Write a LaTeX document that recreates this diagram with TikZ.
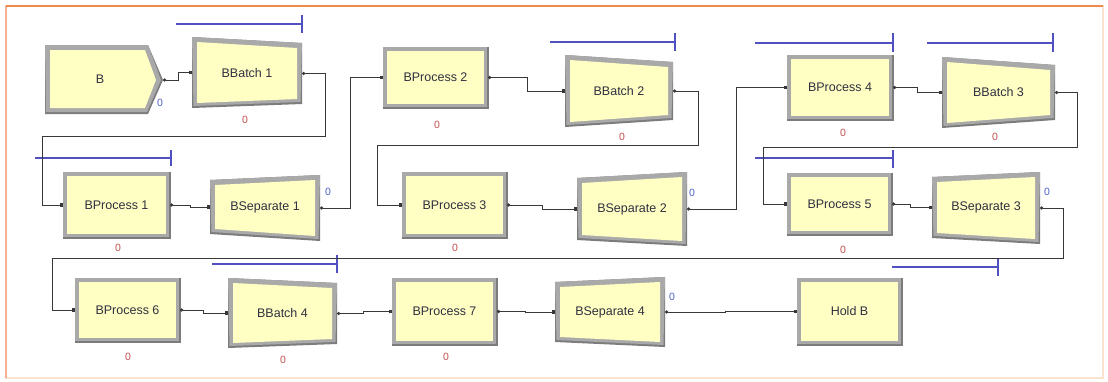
\documentclass[tikz,border=0pt]{standalone}
\usepackage{fontspec}
\setmainfont{Liberation Sans}
\usetikzlibrary{arrows.meta}
\definecolor{modfill}{HTML}{FFFFC4}
\definecolor{modgray}{HTML}{A9A9A9}
\definecolor{moddark}{HTML}{7C7C7C}
\definecolor{txt}{HTML}{303040}
\definecolor{cred}{HTML}{C0504D}
\definecolor{cblue}{HTML}{5060C8}
\definecolor{qblue}{HTML}{5050C0}
\definecolor{wire}{HTML}{383838}
\definecolor{frametop}{HTML}{F08A4B}
\definecolor{frameside}{HTML}{F7B090}
\definecolor{framepale}{HTML}{FBE2CC}
\tikzset{
  lbl/.style={font=\fontsize{12.5}{14}\selectfont, text=txt, inner sep=0pt},
  proc/.style={draw=modgray, line width=4pt, fill=modfill, inner sep=0pt,
    font=\fontsize{12.5}{14}\selectfont, text=txt},
  cnt/.style={font=\fontsize{10.5}{12}\selectfont, inner sep=0pt},
  conn/.style={draw=wire, line width=0.9pt, {Circle[length=3.2pt]}-{Square[length=3.2pt,width=3.2pt]}},
  qbar/.style={draw=qblue, line width=1.1pt}
}
\newcommand{\trapmod}[8]{%
  \fill[moddark] (#2,#4) -- (#3,#6) -- (#3,#7) -- (#2,#5) -- cycle;
  \fill[modgray] (#2,#4) -- (#3,#6) -- (#3-1.5,#7-2) -- (#2+1.5,#5-2) -- cycle;
  \fill[modfill] (#2+5,#4+5) -- (#3-5,#6+5) -- (#3-5,#7-5) -- (#2+5,#5-5) -- cycle;
  \node[lbl] (#1) at ({(#2+#3)/2},{(#4+#5+#6+#7)/4}) {#8};
  \coordinate (#1-in) at (#2,{(#4+#5)/2});
  \coordinate (#1-out) at (#3,{(#6+#7)/2});
}
\newcommand{\procmod}[6]{%
  \node[proc, minimum width={#3-#2-4}, minimum height={#5-#4-4}] (#1) at ({(#2+#3)/2},{(#4+#5)/2}) {#6};
  \draw[moddark, line width=1.2pt] (#1.south west) -- (#1.south east) -- (#1.north east);
}
\begin{document}
\begin{tikzpicture}[x=1pt,y=-1pt]
\useasboundingbox (0,0) rectangle (1108,381);
\fill[white] (0,0) rectangle (1108,381);
% frame
\draw[framepale, line width=1.5pt] (6,6) rectangle (1103,378);
\draw[frameside, line width=1.5pt] (6,6) -- (6,378);
\draw[frametop, line width=2pt] (6,6) -- (1103,6);

% create B
\fill[moddark] (45,45) -- (148,45) -- (163,80) -- (148,114) -- (45,114) -- cycle;
\fill[modgray] (45,45) -- (148,45) -- (161,80) -- (147,112) -- (46,112) -- cycle;
\fill[modfill] (50,50) -- (145,50) -- (156,80) -- (145,108) -- (50,108) -- cycle;
\node[lbl] (B) at (100,79) {B};
\coordinate (B-out) at (163,80);
\node[cnt, text=cblue] (cB) at (160,103) {0};

% modules
\trapmod{bb1}{192}{302}{37}{108}{43}{104}{BBatch 1}
\procmod{p1}{63}{170}{172}{238}{BProcess 1}
\trapmod{bs1}{210}{320}{180}{234}{175}{241}{BSeparate 1}
\procmod{p2}{383}{488}{47}{108}{BProcess 2}
\trapmod{bb2}{565}{673}{55}{127}{62}{120}{BBatch 2}
\procmod{p3}{402}{507}{172}{238}{BProcess 3}
\trapmod{bs2}{577}{687}{178}{240}{172}{246}{BSeparate 2}
\procmod{p4}{787}{893}{55}{120}{BProcess 4}
\trapmod{bb3}{942}{1055}{57}{128}{65}{120}{BBatch 3}
\procmod{p5}{787}{892}{173}{235}{BProcess 5}
\trapmod{bs3}{932}{1040}{177}{238}{172}{244}{BSeparate 3}
\procmod{p6}{75}{180}{278}{342}{BProcess 6}
\trapmod{bb4}{228}{337}{278}{348}{283}{344}{BBatch 4}
\procmod{p7}{392}{497}{278}{345}{BProcess 7}
\trapmod{bs4}{555}{665}{282}{342}{277}{347}{BSeparate 4}
\procmod{hold}{797}{902}{278}{345}{Hold B}

% counters
\node[cnt, text=cred] (cbb1) at (245,120) {0};
\node[cnt, text=cred] (cp1) at (118,248) {0};
\node[cnt, text=cblue] (cbs1) at (328,192) {0};
\node[cnt, text=cred] (cp2) at (437,125) {0};
\node[cnt, text=cred] (cbb2) at (622,137) {0};
\node[cnt, text=cred] (cp3) at (455,248) {0};
\node[cnt, text=cblue] (cbs2) at (692,193) {0};
\node[cnt, text=cred] (cp4) at (843,133) {0};
\node[cnt, text=cred] (cbb3) at (995,137) {0};
\node[cnt, text=cred] (cp5) at (843,250) {0};
\node[cnt, text=cblue] (cbs3) at (1047,192) {0};
\node[cnt, text=cred] (cp6) at (128,357) {0};
\node[cnt, text=cred] (cbb4) at (283,360) {0};
\node[cnt, text=cred] (cp7) at (446,357) {0};
\node[cnt, text=cblue] (cbs4) at (672,297) {0};

% queue bars
\draw[qbar] (176,24) -- (302,24); \draw[qbar] (302,15) -- (302,33);
\draw[qbar] (35,158) -- (171,158); \draw[qbar] (171,150) -- (171,166);
\draw[qbar] (550,42) -- (675,42); \draw[qbar] (675,33) -- (675,51);
\draw[qbar] (755,43) -- (893,43); \draw[qbar] (893,33) -- (893,52);
\draw[qbar] (927,43) -- (1053,43); \draw[qbar] (1053,33) -- (1053,52);
\draw[qbar] (755,158) -- (893,158); \draw[qbar] (893,150) -- (893,168);
\draw[qbar] (892,267) -- (998,267); \draw[qbar] (998,258) -- (998,276);
\draw[qbar] (212,264) -- (337,264); \draw[qbar] (337,255) -- (337,273);

% connectors
\draw[conn] (B-out) -- ++(15,0) |- (bb1-in);
\draw[conn] (bb1-out) -| (325,136) -| ([xshift=-21pt]p1.west) -- (p1.west);
\draw[conn] (p1.east) -- ++(20,0) |- (bs1-in);
\draw[conn] (bs1-out) -- ++(30,0) |- (p2.west);
\draw[conn] (p2.east) -- ++(39,0) |- (bb2-in);
\draw[conn] (bb2-out) -| (698,145) -| ([xshift=-25pt]p3.west) -- (p3.west);
\draw[conn] (p3.east) -- ++(35,0) |- (bs2-in);
\draw[conn] (bs2-out) -- ++(49,0) |- (p4.west);
\draw[conn] (p4.east) -- ++(24,0) |- (bb3-in);
\draw[conn] (bb3-out) -| (1077,147) -| ([xshift=-24pt]p5.west) -- (p5.west);
\draw[conn] (p5.east) -- ++(18,0) |- (bs3-in);
\draw[conn] (bs3-out) -| (1063,258) -| ([xshift=-23pt]p6.west) -- (p6.west);
\draw[conn] (p6.east) -- ++(23,0) |- (bb4-in);
\draw[conn] (bb4-out) -- ++(26,0) |- (p7.west);
\draw[conn] (p7.east) -- ++(28,0) |- (bs4-in);
\draw[conn] (bs4-out) -- ++(60,0) |- (hold.west);
\end{tikzpicture}
\end{document}
